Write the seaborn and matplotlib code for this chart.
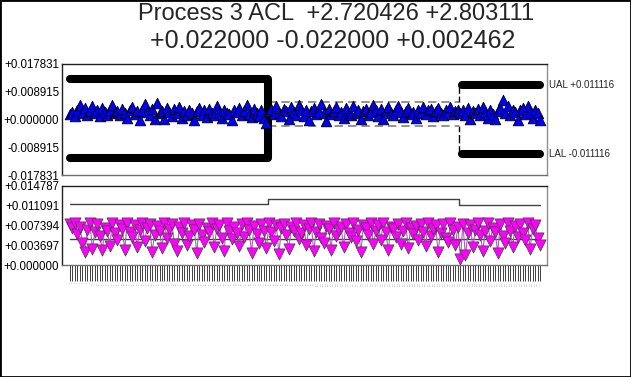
import numpy as np
import pandas as pd
import matplotlib
matplotlib.use("Agg")
import matplotlib.pyplot as plt
from matplotlib.patches import Rectangle
import matplotlib.transforms as mtransforms
import seaborn as sns

# ---------------- data ----------------
title_line1 = "Process 3 ACL  +2.720426 +2.803111"
title_line2 = "+0.022000 -0.022000 +0.002462"

# individual values (in units of 1e-3)
values_milli = [
    1.8, 2.5, 1.2, 3.0, 4.8, 2.2, 3.6, 1.5, 2.8, 4.2,
    2.0, 3.2, 1.0, 3.8, 2.4, 1.6, 3.0, 4.5, 2.1, 2.7,
    1.3, 3.5, 2.2, 0.4, 2.9, 4.0, 1.8, 2.6, 0.0, 3.1,
    4.9, 2.3, 1.5, 3.4, 0.3, 5.2, 2.0, 2.8, 0.1, 3.6,
    2.4, 1.1, 3.3, 2.0, 4.1, 0.5, 2.6, 1.4, 3.0, 2.2,
    -0.2, 2.7, 3.6, 1.6, 2.9, 0.8, 3.4, 2.1, 1.3, 4.4,
    2.5, 0.6, 3.2, 2.0, 1.7, -0.3, 3.0, 2.4, 3.8, 1.5,
    2.8, 4.6, 1.9, 0.9, 3.3, 2.2, 1.2, 2.9, 0.5, -1.0,
    2.6, 3.5, 1.8, 4.2, 2.0, 1.0, 3.4, 2.7, 0.2, 3.9,
    2.3, 1.5, 4.6, 2.9, 1.1, 3.2, 0.0, 2.6, 3.8, 1.7,
    2.4, 5.0, 2.1, -0.4, 3.3, 1.9, 2.8, 4.1, 1.3, 2.5,
    0.6, 3.6, 2.2, 1.4, 4.4, 2.0, 3.0, 0.3, 2.7, 3.5,
    1.6, 2.3, 4.7, 2.9, 1.2, 3.4, 0.1, 2.6, 3.9, 2.0,
    1.5, 3.1, 4.3, 2.4, 0.8, 2.8, 3.6, 1.9, 2.5, 0.4,
    3.2, 2.1, 4.0, 1.7, 2.9, 3.3, 1.2, 2.6, 3.7, 2.0,
    1.4, 3.0, 2.4, 4.1, 1.8, 2.7, 3.2,
    2.2, 3.0, 1.6, 3.8, 0.2, 2.7, 2.1, 3.5, 1.3, 4.0,
    2.5, 0.6, 3.1, 1.9, 0.3, 2.8, 3.6, 6.2, 2.0, 4.4,
    1.5, 3.0, 2.3, 0.0, 2.9, 3.7, 1.8, 4.2, 2.4, 0.4,
    3.1, 2.0, -0.2,
]

# moving range values (in units of 1e-3)
mr_milli = [
    7.6, 6.9, 7.8, 5.8, 7.2, 4.2, 2.4, 6.5, 7.9, 3.0,
    6.2, 7.7, 5.5, 2.8, 7.0, 6.4, 3.6, 7.8, 5.9, 4.6,
    7.5, 6.8, 2.9, 7.9, 6.1, 5.2, 7.4, 3.4, 6.6, 7.8,
    4.4, 6.9, 7.7, 2.5, 5.6, 7.3, 6.3, 3.1, 7.9, 5.0,
    6.7, 7.6, 4.0, 2.6, 7.2, 6.0, 7.8, 3.8, 5.4, 7.5,
    6.5, 2.2, 7.7, 5.7, 4.3, 7.0, 6.2, 7.9, 3.3, 6.8,
    7.4, 5.1, 2.7, 7.8, 6.4, 4.8, 7.1, 6.0, 3.5, 7.6,
    5.3, 7.9, 6.6, 2.3, 7.3, 5.8, 4.1, 7.7, 6.3, 3.2,
    7.8, 6.1, 4.5, 7.4, 2.0, 6.9, 7.7, 5.6, 3.0, 7.2,
    6.4, 7.9, 4.9, 5.9, 7.5, 3.7, 6.7, 7.8, 2.6, 6.2,
    7.6, 5.0, 4.2, 7.3, 6.8, 2.9, 7.9, 5.5, 6.5, 7.1,
    3.4, 7.7, 6.0, 5.2, 7.8, 4.4, 6.6, 2.4, 7.4, 6.9,
    5.7, 7.9, 3.9, 6.3, 7.5, 4.7, 7.8, 6.1, 2.8, 7.2,
    6.7, 5.3, 7.6, 4.0, 6.4, 7.9, 3.1, 6.9, 5.8, 7.3,
    4.6, 7.7, 6.2, 3.5, 7.8, 5.4, 6.8, 7.4, 2.5, 6.0,
    7.6, 5.1, 4.3, 7.9, 6.5, 3.8, 7.2, 1.2, 7.7, 1.8,
    5.9, 7.5, 3.3, 6.6, 7.8, 5.6, 2.7, 6.3, 7.9, 4.5,
    7.0, 6.1, 2.3, 7.6, 5.5, 4.1, 7.8, 6.4, 3.4, 7.3,
    5.2, 7.7, 6.0, 4.6, 7.9, 3.0, 6.7, 7.4, 5.0, 3.7,
]

# phases (segments) of the chart
segment_lengths = [80, 77, 33]
ual_levels = [0.0130, 0.0055, 0.011116]
lal_levels = [-0.0125, -0.0021, -0.011116]
mr_ucl_levels = [0.01136, 0.0123, 0.01123]
mr_center = 0.0048

top_ticks = [-0.017831, -0.008915, 0.0, 0.008915, 0.017831]
bottom_ticks = [0.0, 0.003697, 0.007394, 0.011091, 0.014787]
ual_label = "UAL +0.011116"
lal_label = "LAL -0.011116"

# ---------------- figure ----------------
sns.set_theme(style="white")
plt.rcParams["font.family"] = ["Liberation Sans", "DejaVu Sans"]

values = np.array(values_milli) * 1e-3
mr = np.array(mr_milli) * 1e-3
n = len(values)
idx = np.arange(n)
df = pd.DataFrame({"idx": idx, "value": values, "mr": mr})

W, H = 631, 377
fig = plt.figure(figsize=(W / 100, H / 100), dpi=100)
ax1 = fig.add_axes([62 / W, 1 - 175 / H, 485 / W, 111 / H])
ax2 = fig.add_axes([62 / W, 1 - 265 / H, 485 / W, 79 / H])

step = 470 / (n - 1)
xlim = (-8 / step, n - 1 + 7 / step)

# ---- top panel ----
b1 = segment_lengths[0] - 0.5
b2 = segment_lengths[0] + segment_lengths[1] - 0.5
U1, U2, U3 = ual_levels
L1, L2, L3 = lal_levels

ax1.plot([0, b1, b1, 0], [U1, U1, L1, L1], color="black", lw=5.8,
         solid_capstyle="round", solid_joinstyle="round", zorder=2)
ax1.plot([b1, b2], [U2, U2], color="#808080", lw=1.2, ls=(0, (5, 3)), zorder=1)
ax1.plot([b1, b2], [L2, L2], color="#808080", lw=1.2, ls=(0, (5, 3)), zorder=1)
ax1.plot([b2, b2], [U3, U2], color="black", lw=1.0, ls=(0, (6, 2)), zorder=1)
ax1.plot([b2, b2], [L3, L2], color="black", lw=1.0, ls=(0, (6, 2)), zorder=1)
ax1.plot([b2 + 1, n - 1], [U3, U3], color="black", lw=5.8, solid_capstyle="round", zorder=2)
ax1.plot([b2 + 1, n - 1], [L3, L3], color="black", lw=5.8, solid_capstyle="round", zorder=2)

sns.scatterplot(data=df, x="idx", y="value", marker="^", s=58, color="#0000ff",
                edgecolor="black", linewidth=0.6, ax=ax1, zorder=3, legend=False)

ax1.set_xlim(*xlim)
ax1.set_ylim(top_ticks[0], top_ticks[-1])
ax1.set_yticks(top_ticks)
ax1.set_yticklabels([f"{t:+.6f}" for t in top_ticks])
ax1.set_xticks([])
ax1.set_xlabel("")
ax1.set_ylabel("")
ax1.tick_params(axis="y", length=0, pad=2, labelsize=8.3, colors="black")

trans = mtransforms.blended_transform_factory(ax1.transAxes, ax1.transData)
ax1.text(1.004, U3, ual_label, transform=trans, ha="left", va="center", fontsize=7.0)
ax1.text(1.004, L3, lal_label, transform=trans, ha="left", va="center", fontsize=7.0)

# ---- bottom panel ----
ucl_series = np.repeat(mr_ucl_levels, segment_lengths)
ax2.plot(idx, ucl_series, drawstyle="steps-mid", color="#404040", lw=1.0, zorder=1)
ax2.plot([0, n - 1], [mr_center, mr_center], color="#404040", lw=1.0, zorder=1)
sns.lineplot(data=df, x="idx", y="mr", color="#a860b8", lw=0.8, ax=ax2, zorder=2)
sns.scatterplot(data=df, x="idx", y="mr", marker="v", s=65, color="#ff00ff",
                edgecolor="#404040", linewidth=0.5, ax=ax2, zorder=3, legend=False)

ax2.set_xlim(*xlim)
ax2.set_ylim(bottom_ticks[0], bottom_ticks[-1])
ax2.set_yticks(bottom_ticks)
ax2.set_yticklabels([f"{t:+.6f}" for t in bottom_ticks])
ax2.set_xticks(idx)
ax2.set_xticklabels([str(i + 1) for i in idx], rotation=90, fontsize=1.6, color="#909090")
ax2.set_xlabel("")
ax2.set_ylabel("")
ax2.tick_params(axis="y", length=0, pad=2, labelsize=8.3, colors="black")
ax2.tick_params(axis="x", bottom=True, direction="out", length=11.5, width=0.6,
                color="#202020", pad=0.8)

for ax in (ax1, ax2):
    ax.spines["left"].set_color("#202020")
    ax.spines["top"].set_color("#202020")
    ax.spines["right"].set_color("#909090")
    ax.spines["bottom"].set_color("#707070")
    for s in ax.spines.values():
        s.set_linewidth(1.0)

fig.text(0.532, 1 - 14 / H, title_line1, ha="center", va="center", fontsize=17)
fig.text(0.528, 1 - 41 / H, title_line2, ha="center", va="center", fontsize=18)

fig.patches.append(Rectangle((0, 0), 1, 1, transform=fig.transFigure, fill=False,
                             edgecolor="black", lw=2))

fig.savefig("out.png", dpi=100)
